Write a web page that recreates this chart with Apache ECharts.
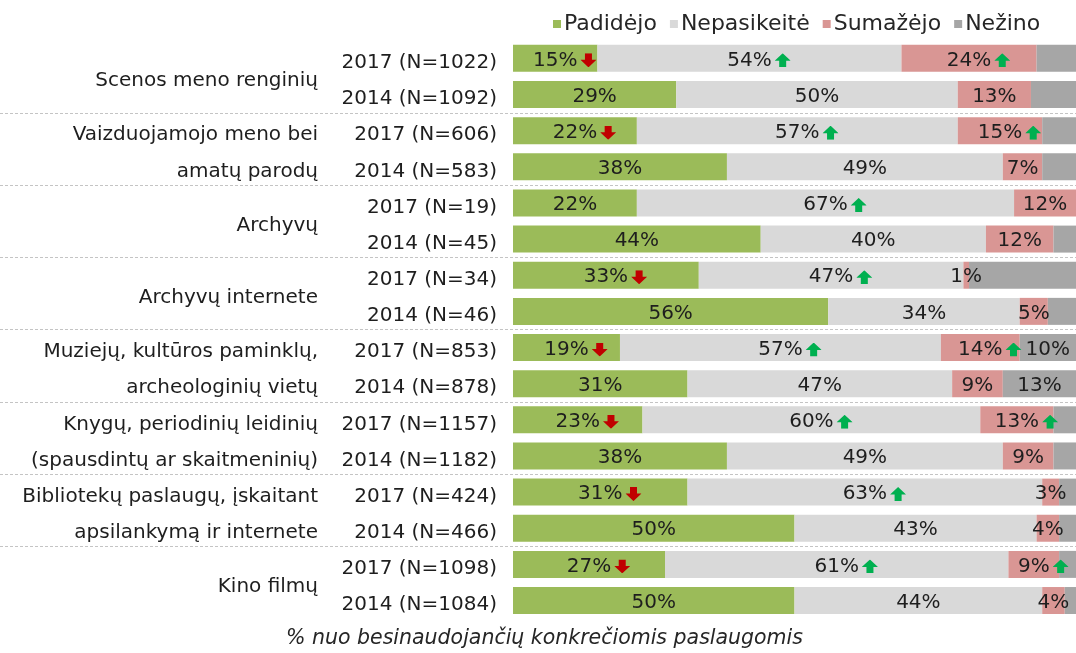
<!DOCTYPE html>
<html>
<head>
<meta charset="utf-8">
<script src="https://cdn.jsdelivr.net/npm/echarts@6/dist/echarts.min.js"></script>
<style>
  html, body { margin: 0; padding: 0; background: #fff; }
  #chart { width: 1076px; height: 653px; }
</style>
</head>
<body>
<div id="chart"></div>
<script>
// Service groups (two survey waves per group)
const groups = [
  'Scenos meno renginių',
  'Vaizduojamojo meno bei\namatų parodų',
  'Archyvų',
  'Archyvų internete',
  'Muziejų, kultūros paminklų,\narcheologinių vietų',
  'Knygų, periodinių leidinių\n(spausdintų ar skaitmeninių)',
  'Bibliotekų paslaugų, įskaitant\napsilankymą ir internete',
  'Kino filmų'
];
const rows = [
  '2017 (N=1022)', '2014 (N=1092)',
  '2017 (N=606)', '2014 (N=583)',
  '2017 (N=19)', '2014 (N=45)',
  '2017 (N=34)', '2014 (N=46)',
  '2017 (N=853)', '2014 (N=878)',
  '2017 (N=1157)', '2014 (N=1182)',
  '2017 (N=424)', '2014 (N=466)',
  '2017 (N=1098)', '2014 (N=1084)'
];
const seriesNames = ['Padidėjo', 'Nepasikeitė', 'Sumažėjo', 'Nežino'];

// Shares, %
const padidejo    = [15, 29, 22, 38, 22, 44, 33, 56, 19, 31, 23, 38, 31, 50, 27, 50];
const nepasikeite = [54, 50, 57, 49, 67, 40, 47, 34, 57, 47, 60, 49, 63, 43, 61, 44];
const sumazejo    = [24, 13, 15, 7, 12, 12, 1, 5, 14, 9, 13, 9, 3, 4, 9, 4];
const nezino      = [7, 8, 6, 6, 0, 4, 19, 5, 10, 13, 4, 4, 3, 3, 3, 2];
// rows whose "Nežino" share is printed
const nezinoLabelled = [8, 9];

// Significant change 2017 vs 2014
const padidejoTrend    = ['down', '', 'down', '', '', '', 'down', '', 'down', '', 'down', '', 'down', '', 'down', ''];
const nepasikeiteTrend = ['up', '', 'up', '', 'up', '', 'up', '', 'up', '', 'up', '', 'up', '', 'up', ''];
const sumazejoTrend    = ['up', '', 'up', '', '', '', '', '', 'up', '', 'up', '', '', '', 'up', ''];

// group separators sit after these rows
const separatorAfter = [1, 3, 5, 7, 9, 11, 13];

const FONT = 'DejaVu Sans';
const TEXT = '#1e1e1e';
const colors = ['#9bbb59', '#d9d9d9', '#d99694', '#a6a6a6'];

function arrowSvg(dir, fill) {
  const pts = dir === 'up'
    ? '8,0 16,7.5 11.5,7.5 11.5,14 4.5,14 4.5,7.5 0,7.5'
    : '8,14 16,6.5 11.5,6.5 11.5,0 4.5,0 4.5,6.5 0,6.5';
  const svg = '<svg xmlns="http://www.w3.org/2000/svg" width="16" height="14" viewBox="0 0 16 14">' +
    '<polygon points="' + pts + '" fill="' + fill + '"/></svg>';
  return 'data:image/svg+xml;charset=utf-8,' + encodeURIComponent(svg);
}
const upImg = { image: arrowSvg('up', '#00b050') };
const downImg = { image: arrowSvg('down', '#c00000') };

const rich = {
  v: { fontFamily: FONT, fontSize: 20, color: TEXT, verticalAlign: 'middle' },
  p: { width: 19, verticalAlign: 'middle' },
  g: { width: 3, verticalAlign: 'middle' },
  up: { width: 16, height: 14, backgroundColor: upImg, verticalAlign: 'middle' },
  down: { width: 16, height: 14, backgroundColor: downImg, verticalAlign: 'middle' }
};

function makeFormatter(trend, shownRows) {
  return function (p) {
    if (shownRows && shownRows.indexOf(p.dataIndex) < 0) return '';
    const t = trend ? trend[p.dataIndex] : '';
    const v = '{v|' + p.value + '%}';
    if (!t) return v;
    return '{p| }' + v + '{g| }{' + t + '| }';
  };
}

// axis text sits a little below the row centre
function lowered(v) {
  return v.split('\n').map(function (l) { return '{a|' + l + '}'; }).join('\n');
}
const axisRich = {
  a: { fontFamily: FONT, fontSize: 20, color: TEXT, padding: [9, 0, 0, 0], lineHeight: 36.14 }
};

const values = [padidejo, nepasikeite, sumazejo, nezino];
const trends = [padidejoTrend, nepasikeiteTrend, sumazejoTrend, null];

const barSeries = values.map(function (arr, i) {
  return {
    name: seriesNames[i],
    type: 'bar',
    stack: 'total',
    yAxisIndex: 0,
    barWidth: 27,
    data: arr,
    itemStyle: { color: colors[i] },
    emphasis: { disabled: true },
    label: {
      show: true,
      position: 'inside',
      offset: [0, 2],
      formatter: makeFormatter(trends[i], i === 3 ? nezinoLabelled : null),
      rich: rich,
      fontFamily: FONT,
      fontSize: 20,
      color: TEXT
    }
  };
});

const separatorSeries = {
  type: 'custom',
  yAxisIndex: 0,
  clip: false,
  silent: true,
  z: 1,
  data: separatorAfter.map(function (r) { return [0, r]; }),
  renderItem: function (params, api) {
    const r = api.value(1);
    const a = api.coord([0, r]);
    const b = api.coord([0, r + 1]);
    const y = Math.round((a[1] + b[1]) / 2) + 0.5;
    return {
      type: 'line',
      shape: { x1: 0, y1: y, x2: api.getWidth(), y2: y },
      style: { stroke: '#c4c4c4', lineWidth: 1, lineDash: [3, 2] }
    };
  }
};

const chart = echarts.init(document.getElementById('chart'));
chart.setOption({
  animation: false,
  textStyle: { fontFamily: FONT },
  color: colors,
  legend: {
    data: seriesNames,
    left: 548,
    top: 8,
    icon: 'rect',
    itemWidth: 8,
    itemHeight: 8,
    itemGap: 13,
    textStyle: { fontFamily: FONT, fontSize: 22, color: '#262626', padding: [0, 0, 0, -2] }
  },
  title: {
    text: '% nuo besinaudojančių konkrečiomis paslaugomis',
    left: 281,
    top: 624,
    textStyle: { fontFamily: FONT, fontSize: 20.5, fontStyle: 'italic', fontWeight: 'normal', color: '#262626' }
  },
  grid: { left: 513, right: 0, top: 40.3, bottom: 34.4 },
  xAxis: {
    type: 'value',
    min: 0,
    max: 100,
    show: false
  },
  yAxis: [
    {
      type: 'category',
      data: rows,
      inverse: true,
      axisLine: { show: false },
      axisTick: { show: false },
      axisLabel: { margin: 16, formatter: lowered, rich: axisRich }
    },
    {
      type: 'category',
      data: groups,
      inverse: true,
      position: 'left',
      axisLine: { show: false },
      axisTick: { show: false },
      splitLine: { show: false },
      axisLabel: { margin: 195, align: 'right', formatter: lowered, rich: axisRich }
    }
  ],
  series: barSeries.concat([separatorSeries])
});
</script>
</body>
</html>
